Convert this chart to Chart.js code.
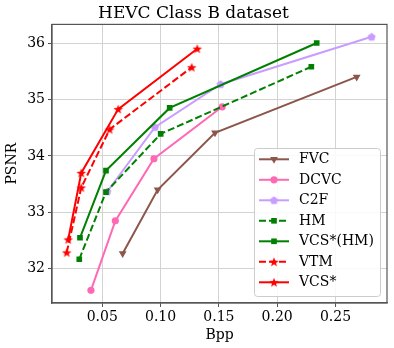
<!DOCTYPE html>
<html><head><meta charset="utf-8">
<script src="https://cdn.jsdelivr.net/npm/chart.js@4"></script>
<style>html,body{margin:0;padding:0;background:#fff}#wrap{width:394px;height:348px}</style>
</head><body><div id="wrap"><canvas id="c" width="394" height="348"></canvas></div>
<script>
const seriesNames = ["FVC","DCVC","C2F","HM","VCS*(HM)","VTM","VCS*"];
const fvcX = [0.0675, 0.0975, 0.1467, 0.2682];
const fvcY = [32.27, 33.40, 34.41, 35.40];
const dcvcX = [0.0403, 0.0612, 0.0943, 0.1529];
const dcvcY = [31.62, 32.85, 33.95, 34.87];
const c2fX = [0.0543, 0.0952, 0.1515, 0.281];
const c2fY = [33.37, 34.51, 35.27, 36.11];
const hmX = [0.0303, 0.0532, 0.1001, 0.2293];
const hmY = [32.17, 33.36, 34.39, 35.58];
const vcsHmX = [0.0309, 0.0532, 0.1078, 0.2339];
const vcsHmY = [32.55, 33.74, 34.85, 36.00];
const vtmX = [0.0195, 0.032, 0.0563, 0.1267];
const vtmY = [32.29, 33.44, 34.47, 35.57];
const vcsX = [0.0208, 0.032, 0.0637, 0.1315];
const vcsY = [32.52, 33.70, 34.83, 35.90];
const xTicks = [0.05, 0.10, 0.15, 0.20, 0.25];
const yTicks = [32, 33, 34, 35, 36];

const FONT = "'DejaVu Serif', serif";

function pentagon(color){
  const s = 11, c = document.createElement('canvas'); c.width = s; c.height = s;
  const g = c.getContext('2d'); g.fillStyle = color; g.beginPath();
  const r = 4.3;
  for (let i=0;i<5;i++){ const a = -Math.PI/2 + i*2*Math.PI/5; const px = s/2 + r*Math.cos(a), py = s/2 + 0.3 + r*Math.sin(a); i?g.lineTo(px,py):g.moveTo(px,py); }
  g.closePath(); g.fill(); return c;
}
function star(color){
  const s = 12, c = document.createElement('canvas'); c.width = s; c.height = s;
  const g = c.getContext('2d'); g.fillStyle = color; g.beginPath();
  const R = 5, r = 2.1;
  for (let i=0;i<10;i++){ const a = -Math.PI/2 + i*Math.PI/5; const rr = i%2?r:R; const px = s/2 + rr*Math.cos(a), py = s/2 + 0.5 + rr*Math.sin(a); i?g.lineTo(px,py):g.moveTo(px,py); }
  g.closePath(); g.fill(); return c;
}
const BROWN = '#8c564b', PINK = '#ff69b4', LAV = '#c99cff', GREEN = '#008000', RED = '#ff0000';
const pentImg = pentagon(LAV), starImg = star(RED);

function pts(xs, ys){ return xs.map((x,i)=>({x:x, y:ys[i]})); }
function ds(label, xs, ys, color, style, dash, rot, radius, order){
  return {label, data: pts(xs,ys), borderColor: color, backgroundColor: color, borderWidth: 2,
    borderDash: dash, pointStyle: style, pointRotation: rot||0, pointRadius: radius, pointHoverRadius: radius,
    pointBorderWidth: 0, pointBackgroundColor: color, pointBorderColor: color, showLine: true, fill: false, tension: 0, order};
}
const datasets = [
  ds(seriesNames[0], fvcX, fvcY, BROWN, 'triangle', [], 180, 4.5, 7),
  ds(seriesNames[1], dcvcX, dcvcY, PINK, 'circle', [], 0, 3.6, 6),
  ds(seriesNames[2], c2fX, c2fY, LAV, pentImg, [], 0, 4, 5),
  ds(seriesNames[3], hmX, hmY, GREEN, 'rect', [7,3], 0, 4, 4),
  ds(seriesNames[4], vcsHmX, vcsHmY, GREEN, 'rect', [], 0, 4, 3),
  ds(seriesNames[5], vtmX, vtmY, RED, starImg, [7,3], 0, 5, 2),
  ds(seriesNames[6], vcsX, vcsY, RED, starImg, [], 0, 5, 1),
];

const framePlugin = {
  id: 'frame',
  afterDatasetsDraw(chart){
    const {ctx, chartArea: a} = chart;
    ctx.save(); ctx.strokeStyle = '#555'; ctx.lineWidth = 1.2;
    ctx.strokeRect(a.left, a.top, a.right - a.left, a.bottom - a.top);
    ctx.restore();
  },
  afterDraw(chart){
    const ctx = chart.ctx;
    const bx = 254, by = 148, bw = 126, bh = 148;
    ctx.save();
    ctx.beginPath(); ctx.roundRect(bx+0.5, by+0.5, bw, bh, 3);
    ctx.fillStyle = 'rgba(255,255,255,0.85)'; ctx.fill();
    ctx.strokeStyle = '#cccccc'; ctx.lineWidth = 1; ctx.stroke();
    chart.data.datasets.forEach((d, i) => {
      const cy = 159.3 + i*20.5;
      ctx.save();
      ctx.strokeStyle = d.borderColor; ctx.lineWidth = 2; ctx.setLineDash(d.borderDash || []);
      ctx.beginPath(); ctx.moveTo(259, cy); ctx.lineTo(289, cy); ctx.stroke();
      ctx.setLineDash([]);
      ctx.fillStyle = d.borderColor;
      Chart.helpers.drawPoint(ctx, {pointStyle: d.pointStyle, rotation: d.pointRotation, radius: d.pointRadius, borderWidth: 0}, 274, cy);
      ctx.restore();
      ctx.fillStyle = '#000'; ctx.font = '14px ' + FONT; ctx.textBaseline = 'middle'; ctx.textAlign = 'left';
      ctx.fillText(d.label, 299, cy + 0.5);
    });
    ctx.restore();
  }
};

new Chart(document.getElementById('c'), {
  type: 'scatter',
  data: { datasets },
  options: {
    responsive: false, animation: false, devicePixelRatio: 1,
    layout: { padding: { left: 0, right: 7, top: 0, bottom: 0 } },
    plugins: {
      legend: { display: false }, tooltip: { enabled: false },
      title: { display: true, text: 'HEVC Class B dataset', color: '#000', font: { family: FONT, size: 17, weight: 'normal' }, padding: { top: 3, bottom: 1 } }
    },
    scales: {
      x: {
        type: 'linear', min: 0.0069, max: 0.2942,
        afterBuildTicks: s => { s.ticks = xTicks.map(v => ({value: v})); },
        afterFit: s => { s.height = 45; },
        ticks: { color: '#000', font: { family: FONT, size: 14 }, padding: 2, maxRotation: 0, callback: v => v.toFixed(2) },
        grid: { color: '#d3d3d3', lineWidth: 1, tickColor: '#555', tickLength: 4 },
        border: { color: '#555', width: 1.2 },
        title: { display: true, text: 'Bpp', color: '#000', font: { family: FONT, size: 14 }, padding: { top: 0, bottom: 4 } }
      },
      y: {
        type: 'linear', min: 31.395, max: 36.33,
        afterBuildTicks: s => { s.ticks = yTicks.map(v => ({value: v})); },
        afterFit: s => { s.width = 52; },
        ticks: { color: '#000', font: { family: FONT, size: 14 }, padding: 3, callback: v => String(v) },
        grid: { color: '#d3d3d3', lineWidth: 1, tickColor: '#555', tickLength: 4 },
        border: { color: '#555', width: 1.2 },
        title: { display: true, text: 'PSNR', color: '#000', font: { family: FONT, size: 14 }, padding: { top: 4, bottom: 0 } }
      }
    }
  },
  plugins: [framePlugin]
});
</script></body></html>
